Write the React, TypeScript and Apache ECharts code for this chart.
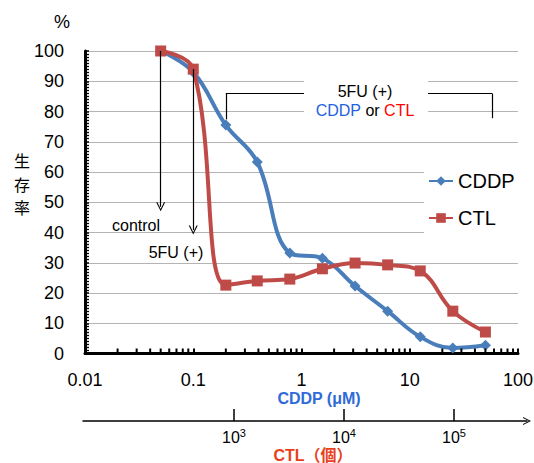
import React, { useEffect, useRef } from 'react';
import * as echarts from 'echarts';

// CDDP concentration (µM) — x values of the measured points
const concentrations = [0.05, 0.1, 0.2, 0.39, 0.78, 1.56, 3.125, 6.25, 12.5, 25, 50];
// survival rate (%)
const cddpSurvival = [100, 93, 75.5, 63.3, 33.2, 31.5, 22.3, 14, 5.5, 1.8, 2.7];
const ctlSurvival = [100, 94, 22.6, 24, 24.6, 28, 29.9, 29.3, 27.3, 14, 7.1];
// x axis decades
const xDecades = [0.01, 0.1, 1, 10];
const minorMultipliers = [2, 3, 4, 5, 6, 7, 8, 9];
// secondary CTL axis: log10 of cell count
const ctlAxisExponents = [3, 4, 5];
// y axis title characters (vertical)
const yTitleChars = ['生', '存', '率'];

const FONT = '"Liberation Sans", Arial, "Noto Sans CJK JP", sans-serif';
const BLUE = '#4A7EBB';
const RED = '#BE4B48';
const CHEVRON = 'path://M5,0 L10,10 L8.6,10 L5,2.6 L1.4,10 L0,10 Z';

export default function App() {
  const ref = useRef<HTMLDivElement>(null);

  useEffect(() => {
    if (!ref.current) return;
    const chart = echarts.init(ref.current, null, { renderer: 'svg' });

    const minorX: number[][] = [];
    xDecades.forEach((d) =>
      minorMultipliers.forEach((m) => minorX.push([+(d * m).toPrecision(3), 0]))
    );

    const yTitle = yTitleChars.map((ch, i) => ({
      type: 'text',
      x: 22,
      y: 160 + i * 23.5,
      z: 100,
      style: {
        text: ch,
        fill: '#000',
        font: `16px "Noto Sans CJK JP", sans-serif`,
        textAlign: 'center',
        textVerticalAlign: 'middle',
      },
    }));

    const option: any = {
      animation: false,
      textStyle: { fontFamily: FONT },
      grid: [
        { left: 85, right: 16, top: 51, bottom: 109.5, containLabel: false, outerBoundsMode: 'none' },
        { left: 83, right: 7, top: 420, height: 1, containLabel: false, outerBoundsMode: 'none' },
      ],
      legend: {
        data: ['CDDP', 'CTL'],
        orient: 'vertical',
        left: 424,
        top: 163,
        padding: [8, 5, 8, 4],
        itemWidth: 24,
        itemHeight: 12,
        itemGap: 17,
        backgroundColor: '#fff',
        textStyle: { fontSize: 20, color: '#000', fontFamily: FONT, lineHeight: 20 },
      },
      xAxis: [
        {
          type: 'log',
          gridIndex: 0,
          min: 0.01,
          max: 100,
          logBase: 10,
          axisLine: { show: true, lineStyle: { color: '#000', width: 3 } },
          axisTick: { show: true, inside: true, length: 5, lineStyle: { color: '#000', width: 2 } },
          axisLabel: {
            fontSize: 18,
            lineHeight: 18,
            color: '#000',
            margin: 17,
            formatter: (v: number) => String(v),
          },
          splitLine: { show: false },
        },
        {
          type: 'value',
          gridIndex: 1,
          min: 1.627,
          max: 5.664,
          axisLine: {
            show: true,
            lineStyle: { color: '#000', width: 1.5 },
            symbol: ['none', CHEVRON],
            symbolSize: [12, 8],
          },
          axisTick: {
            show: true,
            inside: true,
            length: 12,
            customValues: ctlAxisExponents,
            lineStyle: { color: '#000', width: 1.5 },
          },
          axisLabel: {
            show: true,
            margin: 6,
            customValues: ctlAxisExponents,
            formatter: (v: number) => '{b|10}{s|' + v + '}',
            rich: {
              b: { fontSize: 16, lineHeight: 20, color: '#000', fontFamily: FONT },
              s: { fontSize: 11, lineHeight: 11, color: '#000', fontFamily: FONT, verticalAlign: 'top' },
            },
          },
          splitLine: { show: false },
        },
      ],
      yAxis: [
        {
          type: 'value',
          gridIndex: 0,
          min: 0,
          max: 100,
          interval: 10,
          axisLine: { show: true, lineStyle: { color: '#000', width: 3 } },
          axisTick: { show: true, inside: true, length: 4, lineStyle: { color: '#000', width: 1.5 } },
          minorTick: { show: true, splitNumber: 10, length: 4, lineStyle: { color: '#000', width: 1.3 } },
          axisLabel: { fontSize: 18, color: '#000', margin: 21 },
          splitLine: { show: true, lineStyle: { color: '#b4b4b4', width: 1 } },
        },
        { type: 'value', gridIndex: 1, show: false, min: 0, max: 1 },
      ],
      series: [
        {
          name: 'CDDP',
          type: 'line',
          xAxisIndex: 0,
          yAxisIndex: 0,
          data: concentrations.map((x, i) => [x, cddpSurvival[i]]),
          smooth: 0.4,
          symbol: 'diamond',
          symbolSize: 11,
          showAllSymbol: true,
          itemStyle: { color: BLUE },
          lineStyle: { color: BLUE, width: 4 },
          z: 2,
          markLine: {
            silent: true,
            symbol: ['none', 'none'],
            label: { show: false },
            lineStyle: { color: '#000', width: 1.2, type: 'solid' },
            data: [
              [
                { coord: [0.05, 100], symbol: 'none' },
                { coord: [0.05, 48.5], symbol: CHEVRON, symbolSize: [9, 9] },
              ],
              [
                { coord: [0.1, 94], symbol: 'none' },
                { coord: [0.1, 40.8], symbol: CHEVRON, symbolSize: [9, 9] },
              ],
              [{ coord: [0.2, 77.4] }, { coord: [0.2, 85.9] }],
              [{ coord: [0.2, 85.9] }, { coord: [58, 85.9] }],
              [{ coord: [58, 85.9] }, { coord: [58, 77.8] }],
            ],
          },
        },
        {
          name: 'CTL',
          type: 'line',
          xAxisIndex: 0,
          yAxisIndex: 0,
          data: concentrations.map((x, i) => [x, ctlSurvival[i]]),
          smooth: 0.4,
          symbol: 'rect',
          symbolSize: 11,
          showAllSymbol: true,
          itemStyle: { color: RED },
          lineStyle: { color: RED, width: 4 },
          z: 3,
        },
        {
          name: 'minorTicks',
          type: 'custom',
          xAxisIndex: 0,
          yAxisIndex: 0,
          silent: true,
          data: minorX,
          z: 5,
          renderItem: (params: any, api: any) => {
            const p = api.coord([api.value(0), 0]);
            return {
              type: 'line',
              shape: { x1: p[0], y1: p[1] - 1, x2: p[0], y2: p[1] - 5 },
              style: { stroke: '#000', lineWidth: 2 },
            };
          },
        },
      ],
      graphic: [
        {
          type: 'text',
          x: 62,
          y: 22,
          z: 100,
          style: { text: '%', fill: '#000', font: `18px ${FONT}`, textAlign: 'center', textVerticalAlign: 'middle' },
        },
        ...yTitle,
        {
          type: 'rect',
          z: 90,
          shape: { x: 304, y: 74, width: 124, height: 46 },
          style: { fill: '#fff' },
        },
        {
          type: 'text',
          x: 365,
          y: 91,
          z: 100,
          style: { text: '5FU (+)', fill: '#000', font: `16px ${FONT}`, textAlign: 'center', textVerticalAlign: 'middle' },
        },
        {
          type: 'text',
          x: 365,
          y: 110,
          z: 100,
          style: {
            text: '{b|CDDP}{k| or }{r|CTL}',
            textAlign: 'center',
            textVerticalAlign: 'middle',
            rich: {
              b: { fill: '#1F5FE0', fontSize: 16, fontFamily: FONT },
              k: { fill: '#000', fontSize: 16, fontFamily: FONT },
              r: { fill: '#FF0000', fontSize: 16, fontFamily: FONT },
            },
          },
        },
        {
          type: 'text',
          x: 136,
          y: 225,
          z: 100,
          style: { text: 'control', fill: '#000', font: `16px ${FONT}`, textAlign: 'center', textVerticalAlign: 'middle' },
        },
        {
          type: 'text',
          x: 176,
          y: 252,
          z: 100,
          style: { text: '5FU (+)', fill: '#000', font: `16px ${FONT}`, textAlign: 'center', textVerticalAlign: 'middle' },
        },
        {
          type: 'text',
          x: 319,
          y: 398,
          z: 100,
          style: {
            text: 'CDDP (μM)',
            fill: '#2F6BD8',
            font: `bold 16px ${FONT}`,
            textAlign: 'center',
            textVerticalAlign: 'middle',
          },
        },
        {
          type: 'text',
          x: 313,
          y: 455,
          z: 100,
          style: {
            text: 'CTL（個）',
            fill: '#E8401C',
            font: `bold 16px ${FONT}`,
            textAlign: 'center',
            textVerticalAlign: 'middle',
          },
        },
      ],
    };

    chart.setOption(option);
    return () => chart.dispose();
  }, []);

  return (
    <div
      ref={ref}
      style={{ position: 'fixed', left: 0, top: 0, width: 534, height: 463, background: '#fff' }}
    />
  );
}
